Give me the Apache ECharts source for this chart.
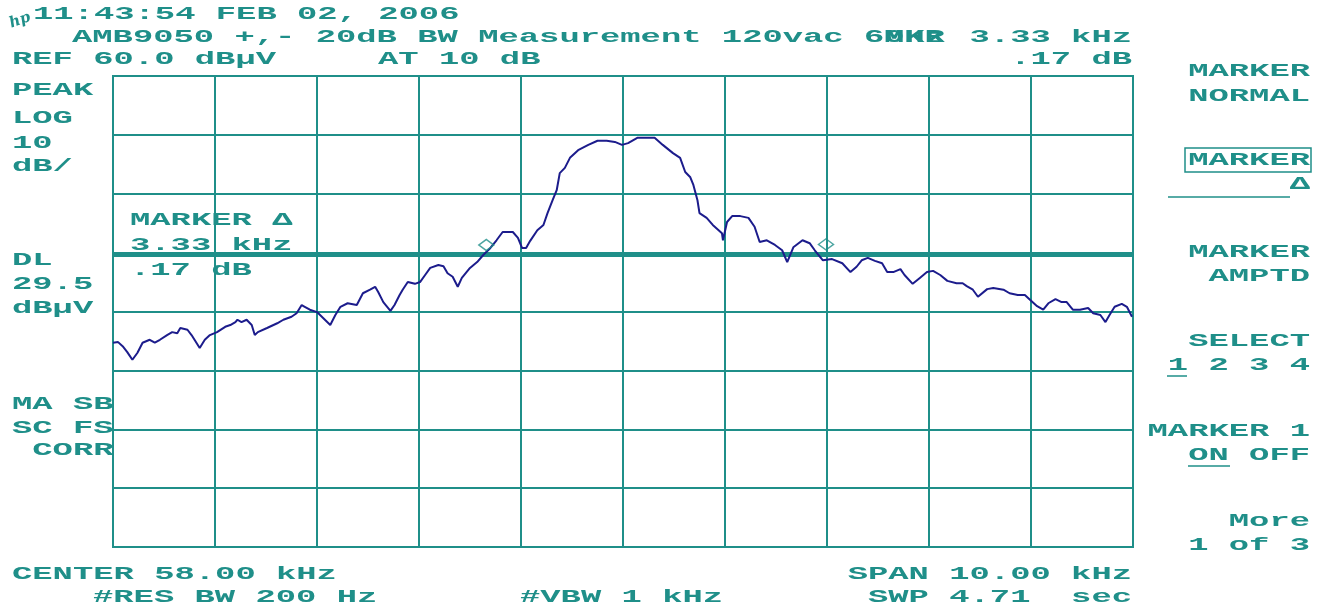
<!DOCTYPE html>
<html>
<head>
<meta charset="utf-8">
<script src="https://cdn.jsdelivr.net/npm/echarts@6/dist/echarts.min.js"></script>
<style>
html,body{margin:0;padding:0;background:#fff;}
#c{width:1322px;height:609px;}
</style>
</head>
<body>
<div id="c"></div>
<script>
// ---- data (frequency in kHz, level in dBµV) ----
const freqKHz = [
 53.00,53.05,53.10,53.14,53.19,53.24,53.29,53.36,53.41,53.46,53.53,53.58,53.63,53.66,53.73,53.77,53.85,53.90,53.95,54.02,
 54.10,54.15,54.20,54.22,54.26,54.31,54.36,54.39,54.42,54.51,54.61,54.67,54.75,54.80,54.85,54.88,54.93,55.00,55.06,55.13,
 55.18,55.23,55.30,55.39,55.45,55.52,55.57,55.60,55.65,55.72,55.76,55.81,55.84,55.89,55.96,56.01,56.06,56.11,56.19,56.24,
 56.28,56.33,56.38,56.42,56.50,56.57,56.63,56.70,56.76,56.82,56.92,56.97,57.01,57.05,57.09,
 57.16,57.22,57.26,57.31,57.35,57.38,57.43,57.48,57.56,57.66,57.75,57.84,57.92,57.99,58.05,58.14,58.24,58.31,58.39,58.49,
 58.56,58.61,58.66,58.69,58.73,58.75,58.82,58.88,58.97,58.98,59.02,59.07,59.15,59.23,59.29,59.34,59.41,59.49,59.56,59.61,
 59.67,59.76,59.83,59.88,59.96,60.05,60.15,60.23,60.29,60.34,60.40,60.47,60.54,60.59,60.65,60.72,60.76,60.84,60.91,60.98,
 61.04,61.11,61.18,61.27,61.33,61.37,61.43,61.48,61.57,61.63,61.73,61.79,61.87,61.94,61.99,62.06,62.12,62.17,62.24,62.30,
 62.35,62.41,62.48,62.56,62.61,62.68,62.73,62.77,62.82,62.89,62.94,62.99
];
const levelDbuV = [
 14.7,14.8,14.0,13.1,11.8,13.0,14.7,15.2,14.7,15.2,16.0,16.5,16.3,17.2,16.9,16.0,13.8,15.2,16.0,16.5,
 17.4,17.7,18.2,18.6,18.2,18.6,17.7,16.0,16.5,17.2,18.0,18.6,19.1,19.7,21.1,20.8,20.3,19.9,18.9,17.7,
 19.4,20.8,21.4,21.1,23.1,23.7,24.2,23.3,21.6,20.1,21.1,22.8,23.7,25.0,24.7,25.0,26.2,27.4,27.9,27.7,
 26.5,25.9,24.2,25.7,27.4,28.4,29.6,30.8,32.1,33.5,33.5,32.5,30.8,30.8,32.0,
 33.8,34.7,36.7,38.9,40.6,43.5,44.4,46.1,47.4,48.3,49.0,49.0,48.8,48.3,48.6,49.5,49.5,49.5,48.3,46.9,
 46.1,43.7,42.8,41.5,38.9,36.7,35.9,34.7,33.3,32.1,35.2,36.2,36.2,35.9,34.4,31.8,32.1,31.3,30.4,28.4,
 30.9,32.1,31.6,30.4,28.7,28.9,28.2,26.7,27.6,28.7,29.1,28.6,28.2,26.7,26.7,27.2,26.2,24.7,25.7,26.7,
 26.9,26.2,25.2,24.8,24.8,24.3,23.7,22.5,23.8,24.0,23.7,23.1,22.8,22.8,22.0,20.9,20.3,21.4,22.1,21.6,
 21.6,20.3,20.3,20.6,19.7,19.4,18.2,19.4,20.8,21.3,20.8,19.1
];
const markerFreq = [56.66, 59.99];
const markerLevel = [31.3, 31.4];
const displayLine = 29.5;
const refLevel = 60, dbPerDiv = 10, divisionsY = 8;
const centerKHz = 58, spanKHz = 10;

const TEAL = '#1f8f89';
const TRACE = '#1c1c8c';

const chart = echarts.init(document.getElementById('c'), null, {renderer:'canvas'});

const FONT = 'bold 18px "Liberation Mono", "DejaVu Sans Mono", monospace';
const SX = 1.88;
function txt(t, x, y, align, extra) {
  return Object.assign({
    type:'text', x:x, y:y, scaleX:SX, scaleY:1, silent:true,
    style:{text:t, font:FONT, fill:TEAL, align:align||'left', verticalAlign:'middle'}
  }, extra||{});
}
const texts = [
  txt('11:43:54 FEB 02, 2006', 33, 14),
  txt('AMB9050 +,- 20dB BW Measurement 120vac 60Hz', 72, 37),
  txt('MKR', 884, 37),
  txt('3.33 kHz', 1132, 37, 'right'),
  txt('REF 60.0 dBµV', 12, 59),
  txt('AT 10 dB', 378, 59),
  txt('.17 dB', 1132, 59, 'right'),
  txt('PEAK', 12, 90), txt('LOG', 12, 118), txt('10', 12, 143), txt('dB/', 12, 166),
  txt('DL', 12, 260), txt('29.5', 12, 284), txt('dBµV', 12, 308),
  txt('MA SB', 12, 404), txt('SC FS', 12, 428), txt(' CORR', 12, 450),
  txt('MARKER Δ', 130, 220), txt('3.33 kHz', 130, 245), txt('.17 dB', 130, 270),
  txt('CENTER 58.00 kHz', 12, 574), txt('#RES BW 200 Hz', 93, 597),
  txt('#VBW 1 kHz', 520, 597),
  txt('SPAN 10.00 kHz', 1132, 574, 'right'), txt('SWP 4.71  sec', 1132, 597, 'right'),
  txt('MARKER', 1310, 71, 'right'), txt('NORMAL', 1310, 96, 'right'),
  txt('MARKER', 1310, 160, 'right'), txt('Δ', 1310, 184, 'right'),
  txt('MARKER', 1310, 252, 'right'), txt('AMPTD', 1310, 276, 'right'),
  txt('SELECT', 1310, 341, 'right'), txt('1 2 3 4', 1310, 365, 'right'),
  txt('MARKER 1', 1310, 431, 'right'), txt('ON OFF', 1310, 455, 'right'),
  txt('More', 1310, 521, 'right'), txt('1 of 3', 1310, 545, 'right'),
  {type:'text', x:10, y:24, silent:true, rotation:0.35,
   style:{text:'hp', font:'italic bold 15px "DejaVu Serif", serif', fill:TEAL, align:'left', verticalAlign:'middle'}},
  {type:'rect', silent:true, shape:{x:1185, y:148, width:126, height:24},
   style:{fill:'none', stroke:TEAL, lineWidth:1.5}},
  {type:'line', silent:true, shape:{x1:1168, y1:197, x2:1290, y2:197}, style:{stroke:TEAL, lineWidth:1.5}},
  {type:'line', silent:true, shape:{x1:1167, y1:376, x2:1187, y2:376}, style:{stroke:TEAL, lineWidth:1.5}},
  {type:'line', silent:true, shape:{x1:1188, y1:466, x2:1230, y2:466}, style:{stroke:TEAL, lineWidth:1.5}}
];

const data = freqKHz.map((f,i)=>[f, levelDbuV[i]]);
const markers = markerFreq.map((f,i)=>[f, markerLevel[i]]);

chart.setOption({
  animation:false,
  backgroundColor:'#ffffff',
  grid:{left:113, right:189, top:76, bottom:62, show:true, borderColor:TEAL, borderWidth:2, backgroundColor:'transparent'},
  xAxis:{type:'value', min:centerKHz-spanKHz/2, max:centerKHz+spanKHz/2, interval:spanKHz/10,
    axisLine:{show:false}, axisTick:{show:false}, axisLabel:{show:false},
    splitLine:{show:true, lineStyle:{color:TEAL, width:2}}},
  yAxis:{type:'value', min:refLevel-dbPerDiv*divisionsY, max:refLevel, interval:dbPerDiv,
    axisLine:{show:false}, axisTick:{show:false}, axisLabel:{show:false},
    splitLine:{show:true, lineStyle:{color:TEAL, width:2}}},
  graphic:texts,
  series:[
    {type:'line', data:data, showSymbol:false, symbol:'none', smooth:false,
     lineStyle:{color:TRACE, width:2}, z:5,
     markLine:{silent:true, symbol:'none', label:{show:false},
       lineStyle:{color:TEAL, width:3, type:'solid'},
       data:[{yAxis:displayLine}]}},
    {type:'scatter', data:markers, symbol:'diamond', symbolSize:[15,11],
     itemStyle:{color:'rgba(0,0,0,0)', borderColor:TEAL, borderWidth:1.5}, z:6}
  ]
});
</script>
</body>
</html>
